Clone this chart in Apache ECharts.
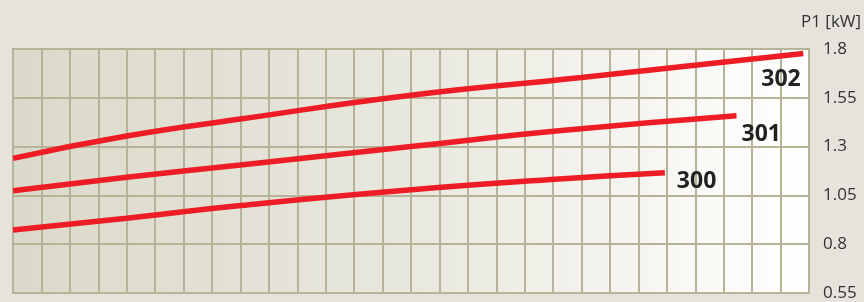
<!DOCTYPE html>
<html><head><meta charset="utf-8">
<script src="https://cdn.jsdelivr.net/npm/echarts@6/dist/echarts.min.js"></script>
<style>html,body{margin:0;padding:0;background:#e6e3dc;}#c{width:864px;height:302px;}</style>
</head><body><div id="c"></div>
<script>
// x in grid-column units (0..28), y in P1 [kW]
const x302 = [0, 4, 8, 14, 20, 27.8];
const y302 = [1.240, 1.354, 1.441, 1.563, 1.654, 1.777];
const x301 = [0, 4, 8, 14, 19.2, 25.45];
const y301 = [1.074, 1.143, 1.206, 1.300, 1.381, 1.458];
const x300 = [0, 4, 8, 13.6, 19.2, 22.93];
const y300 = [0.873, 0.933, 0.998, 1.074, 1.134, 1.166];
const seriesNames = ['302', '301', '300'];
const yTicks = [0.55, 0.8, 1.05, 1.3, 1.55, 1.8];
const yName = 'P1 [kW]';

const pairs = (xs, ys) => xs.map((x, i) => [x, ys[i]]);
const red = '#ee1c25';
const labelOffsets = [[-50, 26], [-3, 19], [4, 9]];
const dataSets = [pairs(x302, y302), pairs(x301, y301), pairs(x300, y300)];

const chart = echarts.init(document.getElementById('c'));
chart.setOption({
  backgroundColor: '#e6e3dc',
  animation: false,
  title: {
    text: yName, left: 796, top: 9,
    textStyle: { fontFamily: 'Open Sans', fontSize: 17, fontWeight: 'normal', color: '#333' }
  },
  grid: {
    left: 13, right: 55, top: 49, bottom: 9, show: true,
    borderColor: '#b6b399', borderWidth: 2,
    backgroundColor: new echarts.graphic.LinearGradient(0, 0, 1, 0, [
      { offset: 0, color: '#dbd9ca' }, { offset: 0.5, color: '#e9e8de' }, { offset: 1, color: '#ffffff' }
    ])
  },
  xAxis: {
    type: 'value', min: 0, max: 28, interval: 1,
    axisLine: { show: false }, axisTick: { show: false }, axisLabel: { show: false },
    splitLine: { show: true, lineStyle: { color: '#b6b399', width: 2 } }
  },
  yAxis: {
    type: 'value', position: 'right', min: yTicks[0], max: yTicks[yTicks.length - 1], interval: 0.25,
    axisLine: { show: false }, axisTick: { show: false },
    axisLabel: {
      margin: 14, fontFamily: 'Open Sans', fontSize: 17, color: '#333',
      formatter: v => String(+v.toFixed(2))
    },
    splitLine: { show: true, lineStyle: { color: '#b6b399', width: 2 } }
  },
  series: dataSets.map((d, i) => ({
    name: seriesNames[i], type: 'line', data: d, smooth: 0.5, symbol: 'none',
    lineStyle: { color: red, width: 5.5 },
    endLabel: {
      show: true, formatter: seriesNames[i], offset: labelOffsets[i],
      fontFamily: 'Open Sans', fontWeight: 'bold', fontSize: 23, color: '#222', align: 'left'
    }
  }))
});
</script></body></html>
